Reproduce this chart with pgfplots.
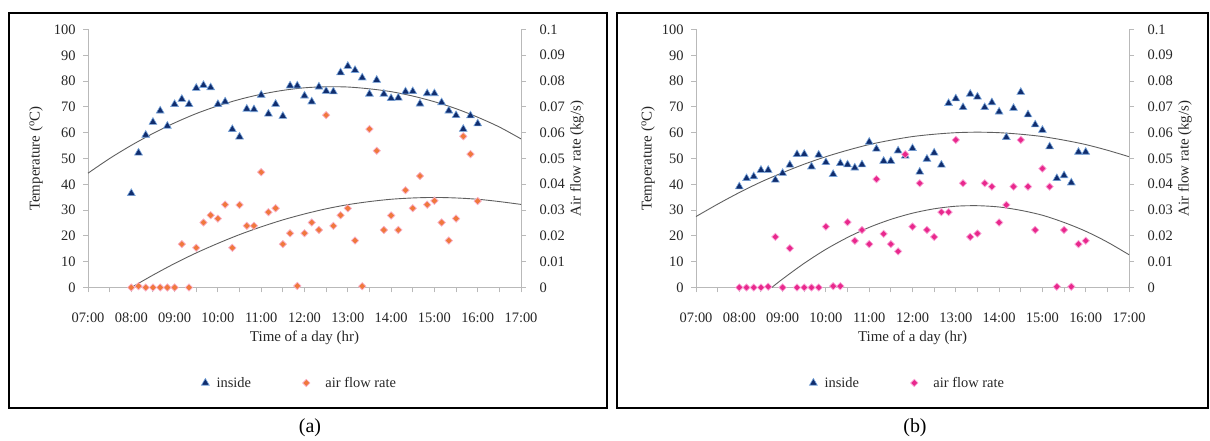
\documentclass[border=0pt]{standalone}
\usepackage{fontspec}
\setmainfont{Liberation Serif}
\usepackage{pgfplots}
\usepackage{pgfplotstable}
\pgfplotsset{compat=1.18}

\definecolor{navy}{RGB}{16,45,110}
\definecolor{navyedge}{RGB}{120,165,220}
\definecolor{orng}{RGB}{240,120,60}
\definecolor{orngedge}{RGB}{250,175,200}
\definecolor{mag}{RGB}{232,40,140}
\definecolor{magedge}{RGB}{250,165,215}
\definecolor{axgray}{RGB}{185,185,185}
\definecolor{trend}{RGB}{95,95,95}

% time (h), inside temperature (C), air flow rate (kg/s)
\pgfplotstableread{
t      Tin   flow
8.000  36.5  0.0000
8.167  52.2  0.0005
8.333  59.1  0.0000
8.500  64.1  0.0000
8.667  68.5  0.0000
8.833  62.6  0.0000
9.000  71.0  0.0000
9.167  73.0  0.0168
9.333  71.0  0.0000
9.500  77.3  0.0154
9.667  78.4  0.0252
9.833  77.5  0.0280
10.000 71.0  0.0267
10.167 72.0  0.0321
10.333 61.3  0.0154
10.500 58.4  0.0320
10.667 69.2  0.0239
10.833 69.0  0.0239
11.000 74.6  0.0447
11.167 67.3  0.0292
11.333 71.1  0.0307
11.500 66.4  0.0168
11.667 78.2  0.0210
11.833 78.2  0.0006
12.000 74.3  0.0210
12.167 72.0  0.0252
12.333 77.8  0.0223
12.500 76.1  0.0668
12.667 75.9  0.0239
12.833 83.3  0.0280
13.000 85.8  0.0307
13.167 84.2  0.0182
13.333 81.3  0.0005
13.500 75.0  0.0614
13.667 80.4  0.0530
13.833 75.0  0.0223
14.000 73.3  0.0279
14.167 73.5  0.0223
14.333 75.9  0.0377
14.500 76.0  0.0307
14.667 71.2  0.0432
14.833 75.2  0.0321
15.000 75.2  0.0336
15.167 71.7  0.0252
15.333 68.5  0.0182
15.500 66.7  0.0267
15.667 61.4  0.0586
15.833 66.6  0.0517
16.000 63.5  0.0335
}\dataA

\pgfplotstableread{
t      Tin   flow
8.000  39.1  0.0000
8.167  42.3  0.0000
8.333  43.0  0.0000
8.500  45.5  0.0000
8.667  45.5  0.0003
8.833  41.7  0.0196
9.000  44.3  0.0000
9.167  47.5  0.0152
9.333  51.6  0.0000
9.500  51.7  0.0000
9.667  46.8  0.0000
9.833  51.4  0.0000
10.000 48.5  0.0236
10.167 43.9  0.0005
10.333 48.1  0.0005
10.500 47.6  0.0253
10.667 46.4  0.0181
10.833 47.6  0.0223
11.000 56.4  0.0168
11.167 53.7  0.0420
11.333 49.0  0.0208
11.500 49.0  0.0168
11.667 53.0  0.0140
11.833 51.0  0.0516
12.000 53.9  0.0236
12.167 44.8  0.0404
12.333 49.8  0.0223
12.500 52.2  0.0196
12.667 47.5  0.0292
12.833 71.4  0.0292
13.000 73.2  0.0572
13.167 69.8  0.0404
13.333 75.0  0.0196
13.500 73.9  0.0209
13.667 69.8  0.0404
13.833 71.7  0.0391
14.000 68.1  0.0252
14.167 58.2  0.0320
14.333 69.5  0.0391
14.500 75.7  0.0572
14.667 67.0  0.0391
14.833 63.1  0.0223
15.000 61.0  0.0461
15.167 54.6  0.0391
15.333 42.3  0.0003
15.500 43.4  0.0223
15.667 40.6  0.0003
15.833 52.5  0.0168
16.000 52.5  0.0181
}\dataB

\pgfplotsset{
  base/.style={
    scale only axis, width=433bp, height=258bp,
    xmin=7, xmax=17, ymin=0, clip=false,
    axis line style={-, axgray, line width=1bp},
    tick style={axgray, line width=1bp},
    major tick length=5bp, minor tick length=5bp,
    tick align=outside,
    ticklabel style={font=\fontsize{14.5}{17}\selectfont, text=black!85},
    /pgf/number format/assume math mode=true,
  },
  tempaxis/.style={base,
    ymax=100, ytick={0,10,20,30,40,50,60,70,80,90,100},
    axis x line*=bottom, axis y line*=left,
    xtick={7,8,9,10,11,12,13,14,15,16,17},
    xticklabels={07:00,08:00,09:00,10:00,11:00,12:00,13:00,14:00,15:00,16:00,17:00},
    minor xtick={7.5,8.5,9.5,10.5,11.5,12.5,13.5,14.5,15.5,16.5},
    xticklabel style={yshift=-17bp},
    yticklabel style={xshift=-4bp},
    ylabel={Temperature (\textsuperscript{o}C)},
    every axis y label/.style={at={(axis description cs:-0.12,0.5)}, rotate=90, anchor=center,
      font=\fontsize{15}{18}\selectfont, text=black!85},
    every axis x label/.style={at={(axis description cs:0.5,-0.196)}, anchor=center,
      font=\fontsize{15}{18}\selectfont, text=black!85},
    legend columns=2,
    legend image code/.code={\path (0bp,0bp) (16bp,0bp); \draw[##1, only marks] plot coordinates {(7bp,0bp)};},
    legend style={draw=none, fill=none, inner sep=0pt, anchor=west,
      at={(axis description cs:0.254,-0.37)},
      font=\fontsize{14.5}{17}\selectfont, text=black!85,
      /tikz/every even column/.append style={column sep=46bp}},
  },
  flowaxis/.style={base,
    ymax=0.1, ytick={0,0.01,0.02,0.03,0.04,0.05,0.06,0.07,0.08,0.09,0.1},
    yticklabels={0,0.01,0.02,0.03,0.04,0.05,0.06,0.07,0.08,0.09,0.1},
    axis y line*=right, axis x line=none,
    yticklabel style={xshift=10bp},
    ylabel={Air flow rate (kg/s)},
    every axis y label/.style={at={(axis description cs:1.129,0.5)}, rotate=90, anchor=center,
      font=\fontsize{15}{18}\selectfont, text=black!85},
  },
  tri/.style={only marks, mark=triangle*, mark size=4.5bp,
    mark options={fill=navy, draw=navyedge, line width=0.6bp}},
  diaA/.style={only marks, mark=square*, mark size=2.6bp,
    mark options={rotate=45, fill=orng, draw=orngedge, line width=0.7bp}},
  diaB/.style={only marks, mark=square*, mark size=2.6bp,
    mark options={rotate=45, fill=mag, draw=magedge, line width=0.7bp}},
  trendline/.style={trend, line width=0.9bp, smooth, no markers, forget plot},
}

\begin{document}
\begin{tikzpicture}[x=1bp, y=1bp]
\path[use as bounding box] (0,0) rectangle (1210,441);
\draw[line width=1.8bp] (9,33) rectangle (607,428);
\draw[line width=1.8bp] (617,33) rectangle (1208,428);

% ---- (a) ----
\begin{axis}[tempaxis, at={(88bp,153.5bp)}, anchor=south west,
    xlabel={Time of a day (hr)}]
\addplot[trendline] coordinates {
 (7,44.3) (7.5,50.0) (8,55.1) (8.5,59.7) (9,63.8) (9.5,67.4) (10,70.4)
 (10.5,72.9) (11,74.9) (11.5,76.4) (12,77.4) (12.5,77.8) (13,77.7)
 (13.5,77.0) (14,75.9) (14.5,74.2) (15,72.0) (15.5,69.3) (16,66.0)
 (16.5,62.2) (17,57.6)};
\addplot[tri] table[x=t, y=Tin] {\dataA};
\addlegendentry{inside}
\addlegendimage{diaA}
\addlegendentry{\hspace{8bp}air flow rate}
\end{axis}
\begin{axis}[flowaxis, at={(88bp,153.5bp)}, anchor=south west]
\addplot[trendline] coordinates {
 (8,0.0) (8.5,0.0048) (9,0.0093) (9.5,0.0134) (10,0.0171) (10.5,0.0205)
 (11,0.0235) (11.5,0.0262) (12,0.0285) (12.5,0.0305) (13,0.0321)
 (13.5,0.0333) (14,0.0342) (14.5,0.0347) (15,0.0349) (15.5,0.0347)
 (16,0.0342) (16.5,0.0333) (17,0.0322)};
\addplot[diaA] table[x=t, y=flow] {\dataA};
\end{axis}

% ---- (b) ----
\begin{axis}[tempaxis, at={(696bp,153.5bp)}, anchor=south west,
    xlabel={Time of a day (hr)},
    every axis y label/.append style={at={(axis description cs:-0.111,0.5)}}]
\addplot[trendline] coordinates {
 (7,27.5) (7.5,32.3) (8,36.8) (8.5,40.9) (9,44.5) (9.5,47.8) (10,50.7)
 (10.5,53.2) (11,55.4) (11.5,57.1) (12,58.5) (12.5,59.4) (13,60.0)
 (13.5,60.2) (14,60.0) (14.5,59.4) (15,58.5) (15.5,57.1) (16,55.4)
 (16.5,53.2) (17,50.7)};
\addplot[tri] table[x=t, y=Tin] {\dataB};
\addlegendentry{inside}
\addlegendimage{diaB}
\addlegendentry{\hspace{8bp}air flow rate}
\end{axis}
\begin{axis}[flowaxis, at={(696bp,153.5bp)}, anchor=south west]
\addplot[trendline] coordinates {
 (8.75,0.0) (9,0.0033) (9.5,0.0094) (10,0.0148) (10.5,0.0194)
 (11,0.0233) (11.5,0.0264) (12,0.0288) (12.5,0.0305) (13,0.0315)
 (13.5,0.0317) (14,0.0312) (14.5,0.0299) (15,0.0280) (15.5,0.0252)
 (16,0.0218) (16.5,0.0176) (17,0.0127)};
\addplot[diaB] table[x=t, y=flow] {\dataB};
\end{axis}

\node[font=\fontsize{20}{24}\selectfont] at (310,13) {(a)};
\node[font=\fontsize{20}{24}\selectfont] at (915,13) {(b)};
\end{tikzpicture}
\end{document}
